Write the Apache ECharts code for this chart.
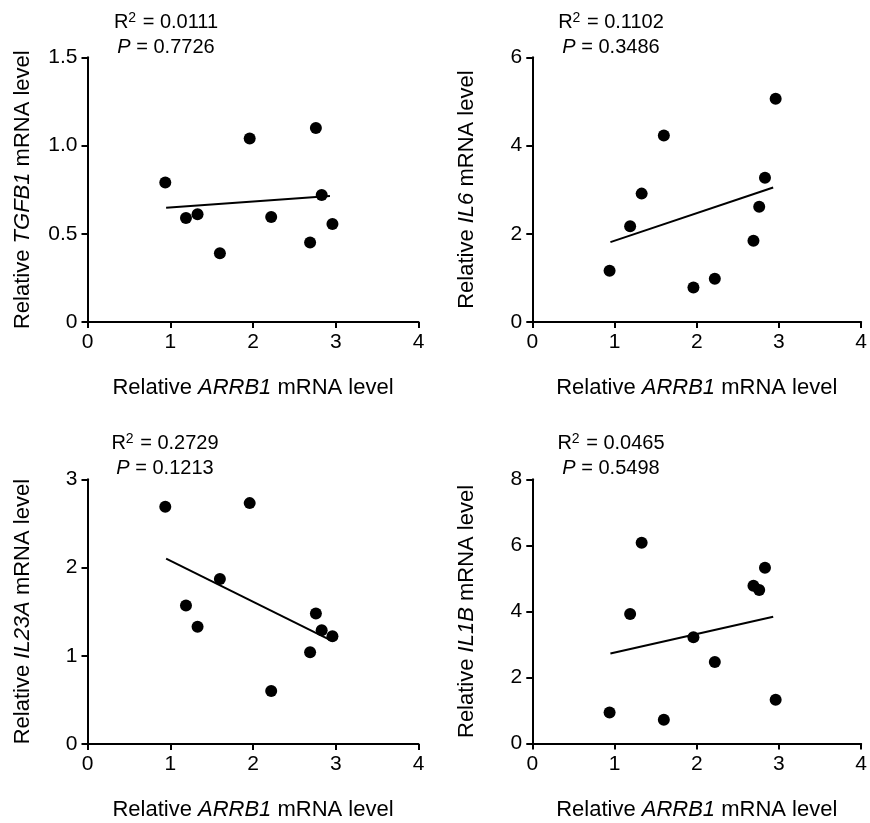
<!DOCTYPE html>
<html>
<head>
<meta charset="utf-8">
<script src="https://cdn.jsdelivr.net/npm/echarts@6/dist/echarts.min.js"></script>
<style>html,body{margin:0;padding:0;background:#fff}#c{width:870px;height:823px}</style>
</head>
<body>
<div id="c"></div>
<script>
// Shared x values (Relative ARRB1 mRNA level)
const arrb1 = [0.94, 1.19, 1.33, 1.60, 1.96, 2.22, 2.69, 2.76, 2.83, 2.96];
// Y values per panel
const tgfb1 = [0.79, 0.59, 0.61, 0.39, 1.04, 0.595, 0.45, 1.10, 0.72, 0.555];
const il6   = [1.16, 2.17, 2.91, 4.23, 0.78, 0.98, 1.84, 2.61, 3.27, 5.06];
const il23a = [2.69, 1.57, 1.33, 1.87, 2.73, 0.60, 1.04, 1.48, 1.29, 1.22];
const il1b  = [0.94, 3.92, 6.08, 0.72, 3.22, 2.47, 4.78, 4.65, 5.32, 1.33];
// Regression line endpoints (x, y)
const fitX = [0.95, 2.93];
const fitTgfb1 = [0.648, 0.714];
const fitIl6   = [1.81, 3.05];
const fitIl23a = [2.10, 1.18];
const fitIl1b  = [2.73, 3.84];
// Axis ranges / tick labels
const xTicks = ['0', '1', '2', '3', '4'];
const yMax = [1.5, 6, 3, 8];
const yStep = [0.5, 2, 1, 2];
const genes = ['TGFB1', 'IL6', 'IL23A', 'IL1B'];
const r2Text = ['0.0111', '0.1102', '0.2729', '0.0465'];
const pText = ['0.7726', '0.3486', '0.1213', '0.5498'];

const FONT = '"Liberation Sans", Arial, sans-serif';
const ys = [tgfb1, il6, il23a, il1b];
const fits = [fitTgfb1, fitIl6, fitIl23a, fitIl1b];
const grids = [
  {left: 87.5, top: 57.3, width: 331, height: 264.7},
  {left: 532.3, top: 57.3, width: 331, height: 264.7},
  {left: 87.5, top: 479.3, width: 331, height: 264.7},
  {left: 532.3, top: 479.3, width: 331, height: 264.3}
];
const axisLine = {show: true, lineStyle: {color: '#000', width: 2}};
const axisTick = {show: true, length: 6, lineStyle: {color: '#000', width: 2}};
const labelStyle = {color: '#000', fontSize: 21, fontFamily: FONT};
const rich = {
  n: {fontSize: 22, fontFamily: FONT, color: '#000'},
  i: {fontSize: 22, fontFamily: FONT, color: '#000', fontStyle: 'italic'}
};

const xAxis = [], yAxis = [], series = [], graphic = [];
for (let k = 0; k < 4; k++) {
  xAxis.push({
    gridIndex: k, type: 'value', min: 0, max: 4, interval: 1,
    axisLine, axisTick, splitLine: {show: false},
    axisLabel: Object.assign({margin: 10, formatter: v => xTicks[v]}, labelStyle),
    name: '{n|Relative }{i|ARRB1}{n| mRNA level}',
    nameLocation: 'middle', nameGap: 55,
    nameTextStyle: {rich}
  });
  yAxis.push({
    gridIndex: k, type: 'value', min: 0, max: yMax[k], interval: yStep[k],
    axisLine, axisTick, splitLine: {show: false},
    axisLabel: Object.assign({margin: 10, formatter: v => (v === 0 ? '0' : (yStep[k] < 1 ? v.toFixed(1) : String(v)))}, labelStyle),
    name: '{n|Relative }{i|' + genes[k] + '}{n| mRNA level}',
    nameLocation: 'middle', nameGap: 54,
    nameTextStyle: {rich}
  });
  series.push({
    type: 'scatter', xAxisIndex: k, yAxisIndex: k,
    symbol: 'circle', symbolSize: 12,
    itemStyle: {color: '#000', opacity: 1},
    data: arrb1.map((x, i) => [x, ys[k][i]]),
    silent: true
  });
  series.push({
    type: 'line', xAxisIndex: k, yAxisIndex: k,
    showSymbol: false, symbol: 'none',
    lineStyle: {color: '#000', width: 2},
    data: fitX.map((x, i) => [x, fits[k][i]]),
    silent: true
  });
}
const annoX = [166, 611, 165, 611];
const annoY = [22, 22, 443, 443];
const annoRich = {
  n: {fontSize: 20, fontFamily: FONT, color: '#000'},
  i: {fontSize: 20, fontFamily: FONT, color: '#000', fontStyle: 'italic'},
  sup: {fontSize: 14, fontFamily: FONT, color: '#000', verticalAlign: 'top', padding: [0, 1, 8, 0]}
};
for (let k = 0; k < 4; k++) {
  graphic.push({
    type: 'text', x: annoX[k], y: annoY[k],
    style: {text: '{n|R}{sup|2}{n| = ' + r2Text[k] + '}', rich: annoRich, align: 'center', verticalAlign: 'middle'}
  });
  graphic.push({
    type: 'text', x: annoX[k], y: annoY[k] + 25,
    style: {text: '{i|P}{n| = ' + pText[k] + '}', rich: annoRich, align: 'center', verticalAlign: 'middle'}
  });
}

const chart = echarts.init(document.getElementById('c'), null, {renderer: 'canvas'});
chart.setOption({
  backgroundColor: '#fff',
  animation: false,
  grid: grids,
  xAxis, yAxis, series, graphic
});
</script>
</body>
</html>
